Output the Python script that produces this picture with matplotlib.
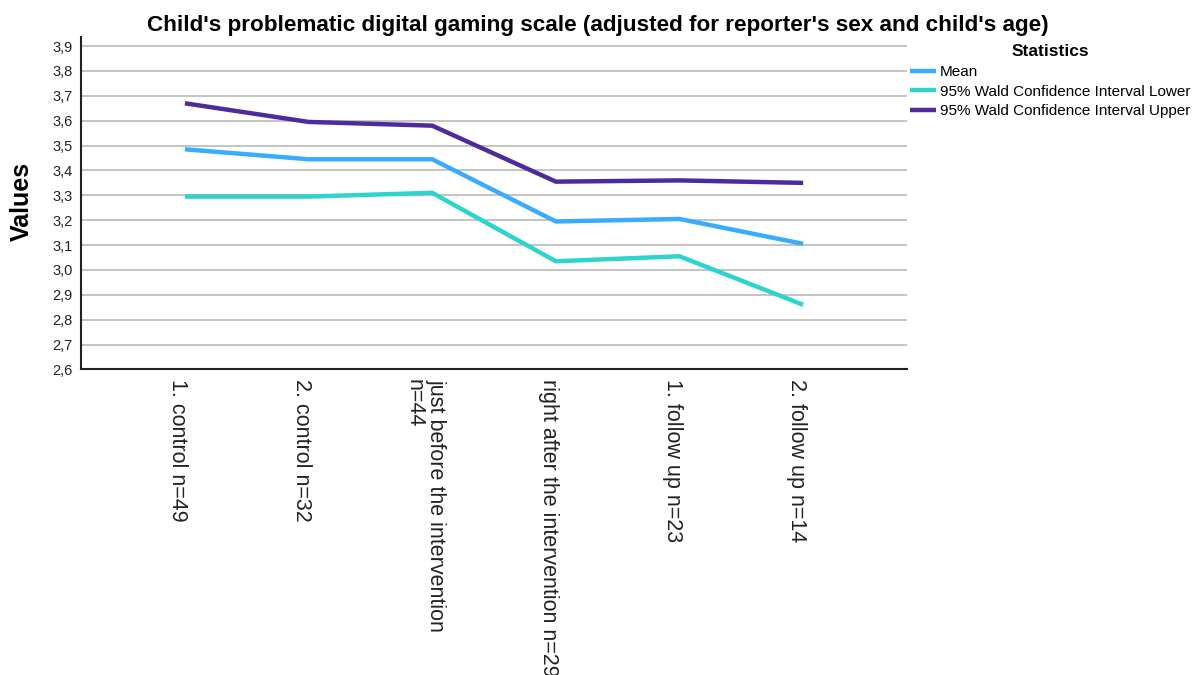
import matplotlib
matplotlib.use("Agg")
import matplotlib.pyplot as plt
from matplotlib.ticker import FuncFormatter, MultipleLocator
from matplotlib.transforms import ScaledTranslation

plt.rcParams['font.family'] = ['Liberation Sans', 'DejaVu Sans']

# measurement points
categories = [
    "1. control n=49",
    "2. control n=32",
    "just before the intervention\nn=44",
    "right after the intervention n=29",
    "1. follow up n=23",
    "2. follow up n=14",
]

# estimated scale values per point
mean_vals = [3.485, 3.445, 3.445, 3.195, 3.205, 3.105]
lower_vals = [3.295, 3.295, 3.31, 3.035, 3.055, 2.86]
upper_vals = [3.67, 3.595, 3.58, 3.355, 3.36, 3.35]

series = [
    ("Mean", mean_vals, "#3aacff"),
    ("95% Wald Confidence Interval Lower", lower_vals, "#2bd4cc"),
    ("95% Wald Confidence Interval Upper", upper_vals, "#4f2a9c"),
]

fig = plt.figure(figsize=(12.02, 6.75), dpi=100)
ax = fig.add_axes([0.0674, 0.4526, 0.6872, 0.4921])

x = list(range(len(categories)))
for name, vals, color in series:
    ax.plot(x, vals, color=color, lw=3.2, label=name, solid_capstyle="butt",
            solid_joinstyle="miter", zorder=3)

ax.set_xlim(-0.84, len(categories) - 1 + 0.84)
ax.set_ylim(2.6, 3.935)
ax.yaxis.set_major_locator(MultipleLocator(0.1))
ax.yaxis.set_major_formatter(FuncFormatter(lambda v, p: f"{v:.1f}".replace(".", ",")))
ax.grid(axis="y", color="#c4c4c4", lw=1.4, zorder=1)
ax.set_axisbelow(True)

# category labels drawn by hand, sitting slightly left of their points
ax.set_xticks(x)
ax.set_xticklabels([])
ax.tick_params(axis="x", length=0)
shift = ScaledTranslation(-7 / 100, -10 / 100, fig.dpi_scale_trans)
for xi, cat in zip(x, categories):
    ax.text(xi, 0, cat, transform=ax.get_xaxis_transform() + shift,
            rotation=270, va="top", ha="center", multialignment="left",
            fontsize=15.5, color="#222222", linespacing=1.05, clip_on=False)

ax.tick_params(axis="y", length=0, labelsize=10.5, pad=6, colors="#222222")

for side in ("top", "right"):
    ax.spines[side].set_visible(False)
for side in ("left", "bottom"):
    ax.spines[side].set_linewidth(1.5)
    ax.spines[side].set_color("#222222")

ax.set_ylabel("Values", fontsize=18, fontweight="bold")
ax.yaxis.set_label_coords(-0.057, 0.505)

fig.text(0.497, 0.962, "Child's problematic digital gaming scale (adjusted for reporter's sex and child's age)",
         ha="center", va="center", fontsize=16.2, fontweight="bold")

leg = ax.legend(loc="upper left", bbox_to_anchor=(0.996, 0.997), frameon=False,
                title="Statistics", fontsize=11, handlelength=1.7,
                handletextpad=0.25, labelspacing=0.37, borderaxespad=0.0)
leg.get_title().set_fontweight("bold")
leg.get_title().set_fontsize(12.5)

fig.savefig("out.png", dpi=100)
